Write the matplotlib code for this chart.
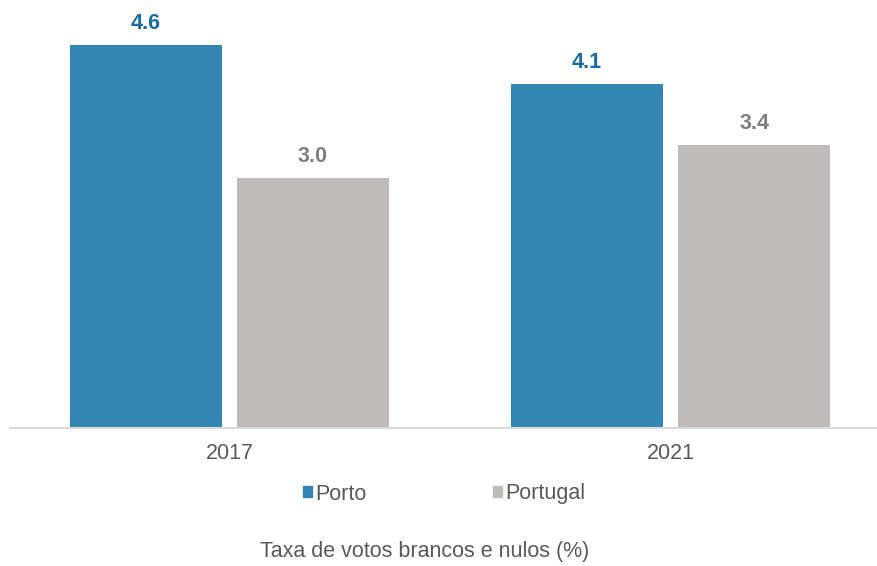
import matplotlib
matplotlib.use("Agg")
import matplotlib.pyplot as plt
import numpy as np
from matplotlib.patches import Patch

plt.rcParams['font.family'] = ['Liberation Sans', 'DejaVu Sans']

years = ["2017", "2021"]
series_names = ["Porto", "Portugal"]
porto = [4.6, 4.13]
portugal = [3.0, 3.4]

bar_colors = ["#3386B3", "#BFBBBA"]
label_colors = ["#1A6CA0", "#7F7F7F"]

fig = plt.figure(figsize=(8.77, 5.66), dpi=100)
ax = fig.add_axes([10/877, (566-428)/566, 867/877, 428/566])

x = np.arange(len(years))
w = 0.345
off = 0.1893
for vals, dx, c, lc in [(porto, -off, bar_colors[0], label_colors[0]),
                        (portugal, off, bar_colors[1], label_colors[1])]:
    bars = ax.bar(x + dx, vals, width=w, color=c)
    for b, v in zip(bars, vals):
        ax.text(b.get_x() + b.get_width()/2, v + 0.13, f"{v:.1f}",
                ha="center", va="bottom", fontsize=15.5, fontweight="bold", color=lc)

ax.set_xlim(-0.4977, 1.468)
ax.set_ylim(0, 5.14)
ax.set_xticks(x)
ax.set_xticklabels(years, fontsize=15.5, color="#595959")
ax.tick_params(axis="x", length=0, pad=11)
ax.set_yticks([])
for s in ["top", "right", "left"]:
    ax.spines[s].set_visible(False)
ax.spines["bottom"].set_color("#D9D9D9")
ax.spines["bottom"].set_linewidth(1.5)

handles = [Patch(color=bar_colors[0]), Patch(color=bar_colors[1])]
fig.legend(handles, series_names, loc="center", bbox_to_anchor=(444/877, 1-494/566),
           ncol=2, frameon=False, fontsize=15.5, handlelength=0.42, handleheight=0.42,
           handletextpad=0.15, columnspacing=5.9, labelcolor="#595959")

fig.text(425/877, 1-551/566, "Taxa de votos brancos e nulos (%)", ha="center", va="center",
         fontsize=15.5, color="#595959")

fig.savefig("out.png", dpi=100)
